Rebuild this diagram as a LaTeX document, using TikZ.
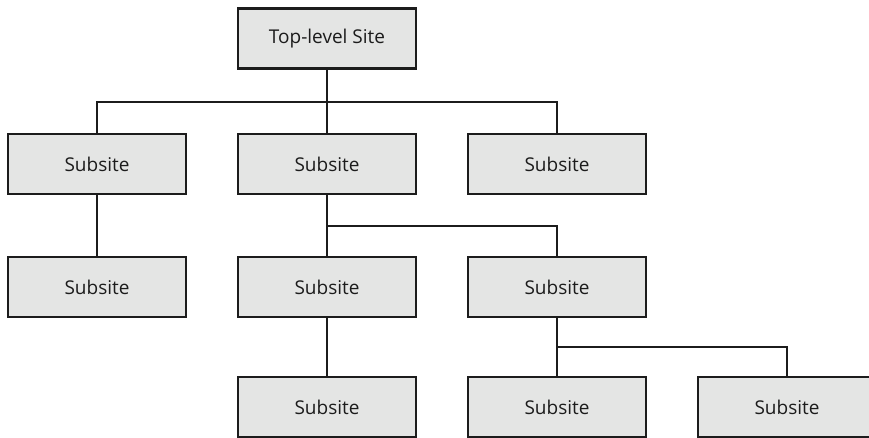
\documentclass[tikz,border=0pt]{standalone}
\usepackage{fontspec}
\setmainfont{Open Sans}
\definecolor{boxfill}{HTML}{E4E5E4}
\definecolor{edge}{HTML}{1C1C1C}
\begin{document}
\begin{tikzpicture}[x=1pt,y=1pt,
  site/.style={draw=edge, fill=boxfill, line width=2.8pt, rectangle,
    minimum width=178pt, minimum height=60pt, inner sep=0pt,
    font=\fontsize{19}{22}\selectfont, text=edge},
  link/.style={draw=edge, line width=2.8pt, line join=miter}]
\useasboundingbox (0,0) rectangle (869,-438);
% nodes
\node[site] (top) at (327,-38.5) {Top-level Site};
\node[site] (a) at (97,-164) {Subsite};
\node[site] (b) at (327,-164) {Subsite};
\node[site] (c) at (557,-164) {Subsite};
\node[site] (d) at (97,-287) {Subsite};
\node[site] (e) at (327,-287) {Subsite};
\node[site] (f) at (557,-287) {Subsite};
\node[site] (g) at (327,-407) {Subsite};
\node[site] (h) at (557,-407) {Subsite};
\node[site] (i) at (787,-407) {Subsite};
% bus levels
\coordinate (bus1) at (0,-102);
\coordinate (bus2) at (0,-226);
\coordinate (bus3) at (0,-347);
% connectors
\draw[link] (top.south) -- (top.south |- bus1);
\draw[link] (a.north) -- (a.north |- bus1) -- (c.north |- bus1) -- (c.north);
\draw[link] (b.north) -- (b.north |- bus1);
\draw[link] (a.south) -- (d.north);
\draw[link] (b.south) -- (b.south |- bus2);
\draw[link] (e.north) -- (e.north |- bus2) -- (f.north |- bus2) -- (f.north);
\draw[link] (e.south) -- (g.north);
\draw[link] (f.south) -- (f.south |- bus3);
\draw[link] (h.north) -- (h.north |- bus3) -- (i.north |- bus3) -- (i.north);
\end{tikzpicture}
\end{document}
